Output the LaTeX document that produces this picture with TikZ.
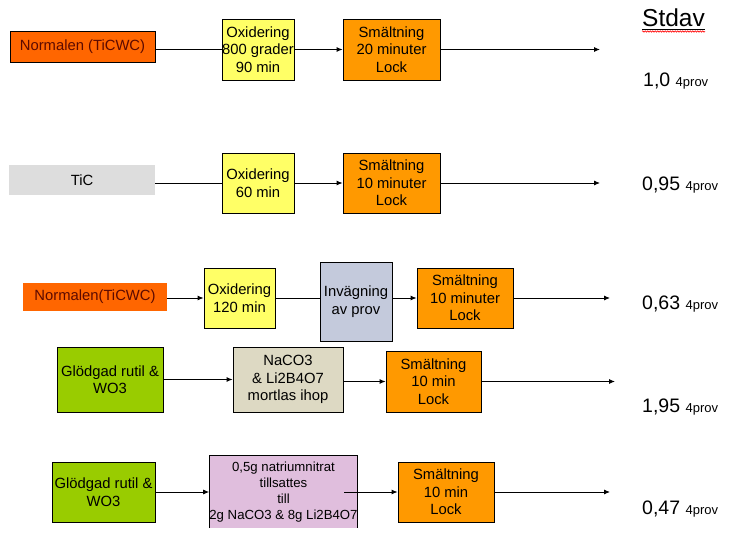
\documentclass[tikz,border=0pt]{standalone}
\usepackage{fontspec}
\setmainfont{Liberation Sans}
\usetikzlibrary{arrows.meta,decorations.pathmorphing}
\definecolor{redorange}{HTML}{FF6600}
\definecolor{yel}{HTML}{FFFF66}
\definecolor{orng}{HTML}{FF9900}
\definecolor{gry}{HTML}{DDDDDD}
\definecolor{grn}{HTML}{99CC00}
\definecolor{tanbox}{HTML}{DDD9C3}
\definecolor{lav}{HTML}{E0BEDD}
\definecolor{inv}{HTML}{C4CADC}
\definecolor{maroon}{HTML}{5C0A00}
\begin{document}
\begin{tikzpicture}[x=1pt,y=-1pt,
  box/.style={draw=black, line width=0.8pt, align=center, inner sep=0pt,
    font=\fontsize{14.8}{17.5}\selectfont},
  flat/.style={draw=none, align=center, inner sep=0pt,
    font=\fontsize{14.8}{17.5}\selectfont},
  conn/.style={line width=0.9pt},
  arr/.style={line width=0.9pt, -{Latex[length=6pt,width=5pt]}},
  val/.style={anchor=base west, inner sep=0pt, font=\fontsize{19.5}{21}\selectfont},
  small/.style={font=\fontsize{13}{14}\selectfont}]
\useasboundingbox (0,0) rectangle (737,535);
\fill[white] (0,0) rectangle (737,535);

% Header
\node[anchor=base west, inner sep=0pt, font=\fontsize{24.5}{26}\selectfont] (stdav) at (642,27) {Stdav};
\draw[line width=0.8pt] ([yshift=-2.5pt]stdav.base west) -- ([yshift=-2.5pt]stdav.base east);
\draw[red, line width=0.6pt, decorate, decoration={snake, amplitude=0.7pt, segment length=2.5pt}]
  ([yshift=-4.5pt]stdav.base west) -- ([yshift=-4.5pt]stdav.base east);

% Row 1
\node[box, fill=redorange, text=maroon, minimum width=145pt, minimum height=31pt] (a1) at (82.5,46.5) {Normalen (TiCWC)};
\node[box, fill=yel, minimum width=72pt, minimum height=61pt] (o1) at (258,49.5) {Oxidering\\800 grader\\90 min};
\node[box, fill=orng, minimum width=97pt, minimum height=61pt] (s1) at (391.5,49.5) {Smältning\\20 minuter\\Lock};
\coordinate (e1) at (600,49.5);
\draw[conn] (a1.east |- o1.west) -- (o1.west);
\draw[arr] (o1.east) -- (s1.west);
\draw[arr] (s1.east) -- (e1);
\node[val] (v1) at (643,87) {1,0 {\fontsize{13}{14}\selectfont 4prov}};

% Row 2
\node[flat, fill=gry, minimum width=146pt, minimum height=30pt] (t2) at (82,180) {TiC};
\node[box, fill=yel, minimum width=72pt, minimum height=60pt] (o2) at (258,183) {Oxidering\\60 min};
\node[box, fill=orng, minimum width=97pt, minimum height=60pt] (s2) at (391.5,183) {Smältning\\10 minuter\\Lock};
\coordinate (e2) at (600,183);
\draw[conn] (t2.east |- o2.west) -- (o2.west);
\draw[arr] (o2.east) -- (s2.west);
\draw[arr] (s2.east) -- (e2);
\node[val] (v2) at (642,190) {0,95 {\fontsize{13}{14}\selectfont 4prov}};

% Row 3
\node[flat, fill=redorange, text=maroon, minimum width=144pt, minimum height=28pt] (n3) at (95,297) {Normalen(TiCWC)};
\node[box, fill=yel, minimum width=71pt, minimum height=60pt] (o3) at (239.5,298) {Oxidering\\120 min};
\node[box, fill=inv, minimum width=72pt, minimum height=79pt] (i3) at (356,301.5) {Invägning\\av prov};
\node[box, fill=orng, minimum width=96pt, minimum height=60pt] (s3) at (465,298) {Smältning\\10 minuter\\Lock};
\coordinate (e3) at (610,298);
\draw[arr] (n3.east |- o3.west) -- (o3.west);
\draw[conn] (o3.east) -- (i3.west |- o3.east);
\draw[arr] (i3.east |- s3.west) -- (s3.west);
\draw[arr] (s3.east) -- (e3);
\node[val] (v3) at (642,309) {0,63 {\fontsize{13}{14}\selectfont 4prov}};

% Row 4
\node[box, fill=grn, minimum width=106pt, minimum height=65pt] (g4) at (110,379.5) {Glödgad rutil \&\\WO3};
\node[box, fill=tanbox, minimum width=110pt, minimum height=65pt] (t4) at (288,379.5) {NaCO3\\\& Li2B4O7\\mortlas ihop};
\node[box, fill=orng, minimum width=95pt, minimum height=61pt] (s4) at (433.5,381.5) {Smältning\\10 min\\Lock};
\coordinate (e4) at (615,381.5);
\draw[arr] (g4.east) -- (t4.west);
\draw[arr] (t4.east |- s4.west) -- (s4.west);
\draw[arr] (s4.east) -- (e4);
\node[val] (v4) at (642,412) {1,95 {\fontsize{13}{14}\selectfont 4prov}};

% Row 5
\node[box, fill=grn, minimum width=103pt, minimum height=60pt] (g5) at (103.5,492) {Glödgad rutil \&\\WO3};
\node[flat, fill=lav, minimum width=147pt, minimum height=72pt, font=\fontsize{13.2}{16}\selectfont] (l5) at (283.5,492) {0,5g natriumnitrat\\tillsattes\\till\\2g NaCO3 \& 8g Li2B4O7};
\draw[line width=0.8pt] (l5.south west) -- (l5.north west) -- (l5.north east) -- (l5.south east);
\node[box, fill=orng, minimum width=96pt, minimum height=60pt] (s5) at (446,492) {Smältning\\10 min\\Lock};
\coordinate (c5) at (344,492);
\coordinate (e5) at (610,492);
\draw[arr] (g5.east) -- (l5.west);
\draw[arr] (c5) -- (s5.west);
\draw[arr] (s5.east) -- (e5);
\node[val] (v5) at (642,514) {0,47 {\fontsize{13}{14}\selectfont 4prov}};
\end{tikzpicture}
\end{document}
